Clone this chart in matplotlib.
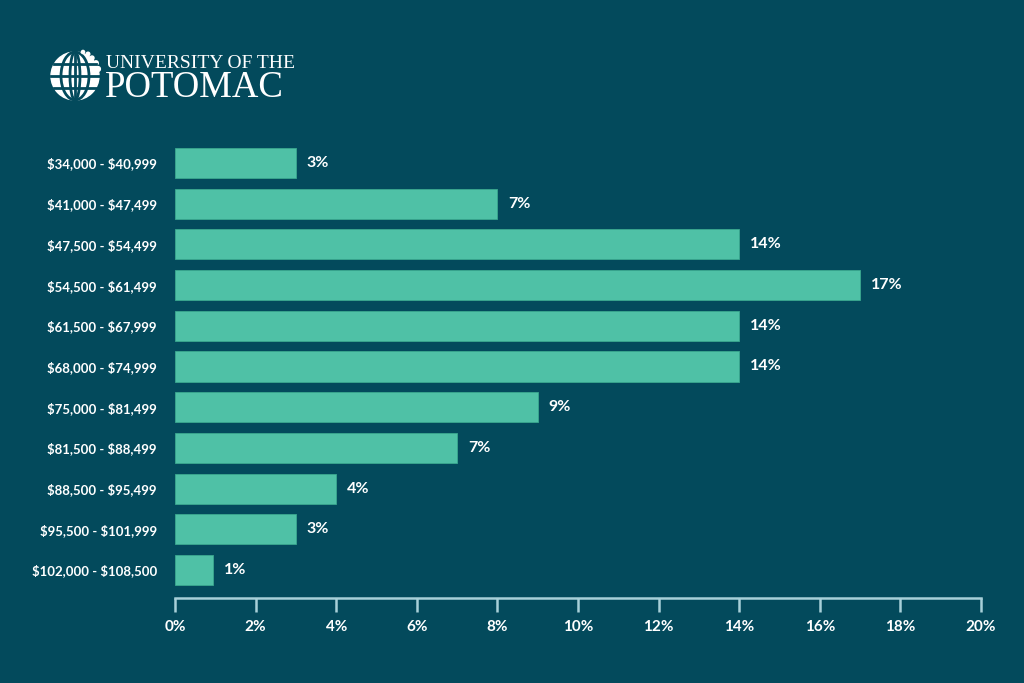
import numpy as np
import matplotlib
matplotlib.use("Agg")
import matplotlib.pyplot as plt
from matplotlib.patches import Circle, Ellipse

# salary ranges and share of graduates (%)
ranges = [
    "$34,000 - $40,999", "$41,000 - $47,499", "$47,500 - $54,499",
    "$54,500 - $61,499", "$61,500 - $67,999", "$68,000 - $74,999",
    "$75,000 - $81,499", "$81,500 - $88,499", "$88,500 - $95,499",
    "$95,500 - $101,999", "$102,000 - $108,500",
]
# bar lengths as drawn in the original (the second bar reaches 8%)
bar_lengths = [3, 8, 14, 17, 14, 14, 9, 7, 4, 3, 0.95]
bar_labels = ["3%", "7%", "14%", "17%", "14%", "14%", "9%", "7%", "4%", "3%", "1%"]
xticks = [0, 2, 4, 6, 8, 10, 12, 14, 16, 18, 20]

BG = "#034a5c"
BAR = "#4fc1a6"
AXIS = "#a8d0d9"

plt.rcParams["font.family"] = ["Lato", "DejaVu Sans"]

fig = plt.figure(figsize=(10.24, 6.83), dpi=100, facecolor=BG)
ax = fig.add_axes([175 / 1024, 1 - 598 / 683, 806 / 1024, 463 / 683])
ax.set_facecolor(BG)

y = np.arange(len(ranges))
ax.barh(y, bar_lengths, height=0.74, color=BAR, edgecolor="#3aa88f", linewidth=0.6)
for yi, v, lab in zip(y, bar_lengths, bar_labels):
    ax.text(v + 0.27, yi, lab, va="center", ha="left", color="white",
            fontsize=11.5, fontweight="bold")

ax.set_xlim(0, 20)
ax.set_ylim(len(ranges) - 1 + 0.69, -0.69)
ax.set_yticks(y, [r.replace("$", r"\$") for r in ranges])
ax.tick_params(axis="y", length=0, pad=13, labelcolor="white", labelsize=9.5)
for lab in ax.get_yticklabels():
    lab.set_fontweight("bold")

ax.set_xticks(xticks, [f"{t}%" for t in xticks])
ax.tick_params(axis="x", direction="out", length=10, width=1.8, color=AXIS,
               pad=6, labelcolor="white", labelsize=11)
for lab in ax.get_xticklabels():
    lab.set_fontweight("bold")

for s in ["top", "right", "left"]:
    ax.spines[s].set_visible(False)
ax.spines["bottom"].set_color(AXIS)
ax.spines["bottom"].set_linewidth(1.8)

# logo: globe + wordmark
lax = fig.add_axes([0, 0, 1, 1], facecolor="none")
lax.set_xlim(0, 1024)
lax.set_ylim(683, 0)
lax.axis("off")
cx, cy, r = 75, 76, 24
lax.add_patch(Circle((cx, cy), r, color="white"))
for w in [10, 28]:
    lax.add_patch(Ellipse((cx, cy), w, 2 * r, fill=False, ec=BG, lw=2))
lax.plot([cx, cx], [cy - r, cy + r], color=BG, lw=2)
for dy in [-12, 0, 12]:
    half = np.sqrt(r ** 2 - dy ** 2)
    lax.plot([cx - half, cx + half], [cy + dy, cy + dy], color=BG, lw=2)
for dx, dy, s in [(8, -24, 1.6), (13, -22, 1.8), (17, -18, 2.0), (21, -13, 2.2),
                  (23, -7, 2.4)]:
    lax.add_patch(Circle((cx + dx, cy + dy), s, color="white"))
lax.text(106, 68, "UNIVERSITY OF THE", family="Liberation Serif", color="white",
         fontsize=14, va="baseline", ha="left")
lax.text(105, 97, "POTOMAC", family="Liberation Serif", color="white",
         fontsize=26.5, va="baseline", ha="left")

fig.savefig("out.png", dpi=100, facecolor=BG)
